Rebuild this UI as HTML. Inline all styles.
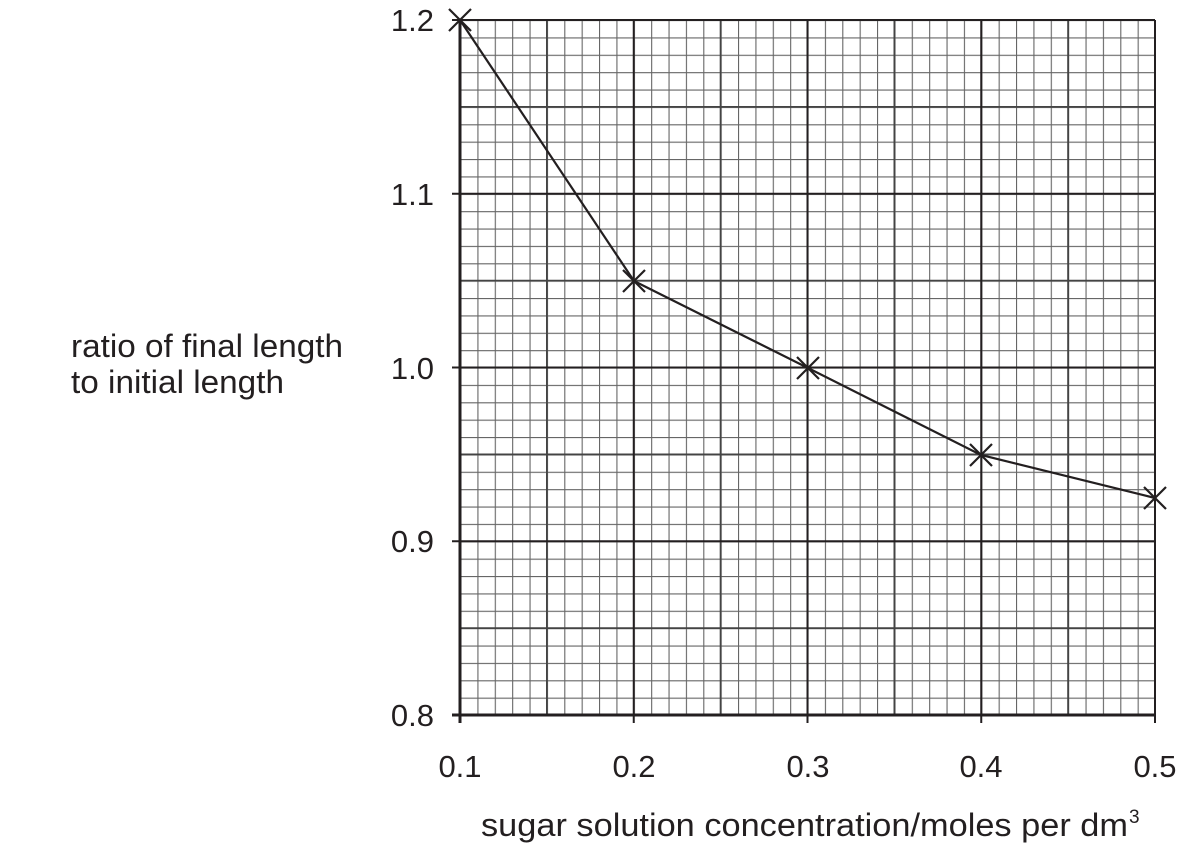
<!DOCTYPE html>
<html><head><style>body{margin:0;background:#fff}svg{display:block}</style></head><body>
<svg width="1202" height="848" xmlns="http://www.w3.org/2000/svg" font-family="Liberation Sans, sans-serif" fill="#231f20">
<defs>
<pattern id="m" x="460" y="20" width="17.375" height="17.375" patternUnits="userSpaceOnUse">
<path d="M0 0V17.375M0 0H17.375" stroke="#666" stroke-width="2.2" fill="none"/>
</pattern>
</defs>
<rect x="460" y="20" width="695" height="695" fill="url(#m)"/>
<g stroke="#444" stroke-width="1.8" fill="none">
<path d="M546.9 20V715M720.6 20V715M894.4 20V715M1068.1 20V715M460 106.9H1155M460 280.6H1155M460 454.4H1155M460 628.1H1155"/>
</g>
<g stroke="#231f20" stroke-width="2" fill="none">
<path d="M633.75 20V723M807.5 20V723M981.25 20V723M1155 20V723M452 20H1155M452 193.75H1155M452 367.5H1155M452 541.25H1155"/>
<path d="M460 20V723M452 715H1155" stroke-width="3"/>
<polyline points="460,20 634,281 808,368 981,455 1155,498" stroke-width="2.2"/>
<path stroke-width="2.2" d="M449 9L471 31M449 31L471 9M623 270L645 292M623 292L645 270M797 357L819 379M797 379L819 357M970 444L992 466M970 466L992 444M1144 487L1166 509M1144 509L1166 487"/>
</g>
<g font-size="31" text-anchor="end">
<text x="434" y="31">1.2</text><text x="434" y="205">1.1</text><text x="434" y="379">1.0</text><text x="434" y="552">0.9</text><text x="434" y="726">0.8</text>
</g>
<g font-size="31" text-anchor="middle">
<text x="460" y="777">0.1</text><text x="634" y="777">0.2</text><text x="808" y="777">0.3</text><text x="981" y="777">0.4</text><text x="1155" y="777">0.5</text>
</g>
<text x="71" y="357" font-size="32" textLength="272" lengthAdjust="spacingAndGlyphs">ratio of final length</text>
<text x="71" y="393" font-size="32" textLength="213" lengthAdjust="spacingAndGlyphs">to initial length</text>
<text x="481" y="836" font-size="32" textLength="647" lengthAdjust="spacingAndGlyphs">sugar solution concentration/moles per dm</text>
<text x="1129" y="823" font-size="19">3</text>
</svg>
</body></html>
